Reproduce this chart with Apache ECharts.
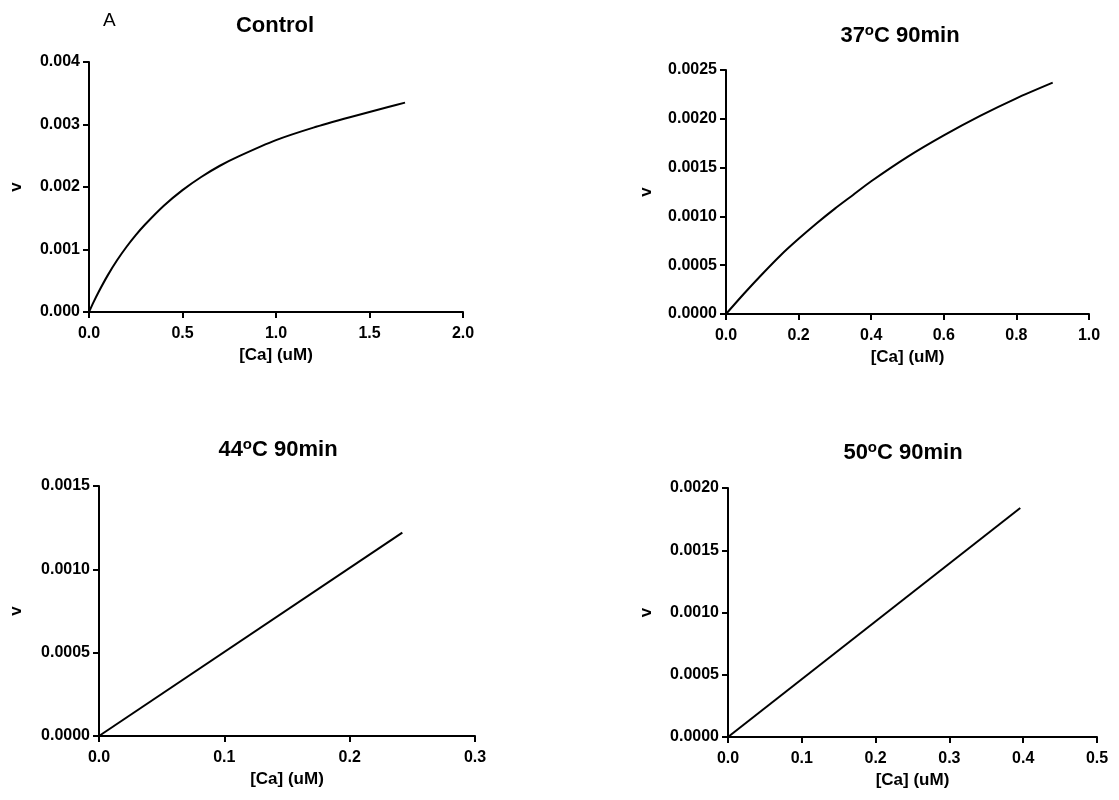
<!DOCTYPE html>
<html>
<head>
<meta charset="utf-8">
<script src="https://cdn.jsdelivr.net/npm/echarts@6/dist/echarts.min.js"></script>
<style>
  html, body { margin: 0; padding: 0; background: #fff; }
  #main { width: 1119px; height: 800px; }
</style>
</head>
<body>
<div id="main"></div>
<script>
// 数据
var ctrlX = [0, 0.025, 0.05, 0.1, 0.15, 0.2, 0.25, 0.3, 0.4, 0.5, 0.6, 0.7, 0.8, 1.0, 1.2, 1.4, 1.6, 1.69];
var ctrlV = [0, 0.000162, 0.000313, 0.000586, 0.000827, 0.00104, 0.00123, 0.0014, 0.0017, 0.00195, 0.00216, 0.00234, 0.00249, 0.00275, 0.00295, 0.00312, 0.00328, 0.00335];

var t37X = [0, 0.05, 0.1, 0.15, 0.2, 0.25, 0.3, 0.35, 0.4, 0.5, 0.6, 0.7, 0.8, 0.9];
var t37V = [0, 0.00021, 0.00041, 0.0006, 0.00077, 0.00093, 0.00108, 0.00122, 0.00136, 0.00161, 0.00183, 0.00203, 0.00221, 0.00237];

var t44X = [0, 0.242];
var t44V = [0, 0.00122];

var t50X = [0, 0.396];
var t50V = [0, 0.00184];

var titles = ['Control', '37{sup|o}C 90min', '44{sup|o}C 90min', '50{sup|o}C 90min'];
var xMax = [2.0, 1.0, 0.3, 0.5];
var xStep = [0.5, 0.2, 0.1, 0.1];
var yMax = [0.004, 0.0025, 0.0015, 0.002];
var yStep = [0.001, 0.0005, 0.0005, 0.0005];
var yDigits = [3, 4, 4, 4];

function pairs(xs, vs) {
    var out = [];
    for (var i = 0; i < xs.length; i++) out.push([xs[i], vs[i]]);
    return out;
}
var seriesData = [pairs(ctrlX, ctrlV), pairs(t37X, t37V), pairs(t44X, t44V), pairs(t50X, t50V)];

var grids = [
    {left: 89, top: 62, width: 374, height: 250},
    {left: 726, top: 70, width: 363, height: 244},
    {left: 99, top: 486, width: 376, height: 250},
    {left: 728, top: 488, width: 369, height: 249}
];
var titlePos = [[270, 10], [895, 18], [273, 432], [898, 435]];
var vGap = [64, 71, 74, 73];

var font = 'Liberation Sans, Arial, sans-serif';
var axisLine = {show: true, onZero: false, lineStyle: {color: '#000', width: 2}};
var axisTick = {show: true, inside: false, length: 6, lineStyle: {color: '#000', width: 2}};

var option = {
    backgroundColor: '#fff',
    animation: false,
    title: [],
    grid: [],
    xAxis: [],
    yAxis: [],
    series: [],
    graphic: [{
        type: 'text', left: 103, top: 11,
        style: {text: 'A', font: '19px ' + font, fill: '#000'}
    }]
};

for (var i = 0; i < 4; i++) {
    option.title.push({
        text: titles[i],
        left: titlePos[i][0], top: titlePos[i][1],
        textAlign: 'center',
        textStyle: {
            fontFamily: font, fontWeight: 'bold', fontSize: 22, color: '#000',
            rich: {sup: {fontFamily: font, fontWeight: 'bold', fontSize: 15, color: '#000', verticalAlign: 'top', padding: [0, 0, 10, 0]}}
        }
    });
    option.grid.push(grids[i]);
    option.xAxis.push({
        type: 'value', gridIndex: i, min: 0, max: xMax[i], interval: xStep[i],
        name: '[Ca] (uM)', nameLocation: 'middle', nameGap: 35,
        nameTextStyle: {fontFamily: font, fontWeight: 'bold', fontSize: 17, color: '#000'},
        axisLine: axisLine, axisTick: axisTick, splitLine: {show: false},
        axisLabel: {
            fontFamily: font, fontWeight: 'bold', fontSize: 16, color: '#000', margin: 14,
            formatter: function (v) { return v.toFixed(1); }
        }
    });
    (function (d) {
        option.yAxis.push({
            type: 'value', gridIndex: i, min: 0, max: yMax[i], interval: yStep[i],
            name: 'v', nameLocation: 'middle', nameGap: vGap[i], nameRotate: 90,
            nameTextStyle: {fontFamily: font, fontWeight: 'bold', fontSize: 17, color: '#000'},
            axisLine: axisLine, axisTick: axisTick, splitLine: {show: false},
            axisLabel: {
                fontFamily: font, fontWeight: 'bold', fontSize: 16, color: '#000', margin: 9,
                formatter: function (v) { return v.toFixed(d); }
            }
        });
    })(yDigits[i]);
    option.series.push({
        type: 'line', xAxisIndex: i, yAxisIndex: i,
        data: seriesData[i], smooth: 0.25, symbol: 'none',
        lineStyle: {color: '#000', width: 2}
    });
}

var myChart = echarts.init(document.getElementById('main'));
myChart.setOption(option);
</script>
</body>
</html>
